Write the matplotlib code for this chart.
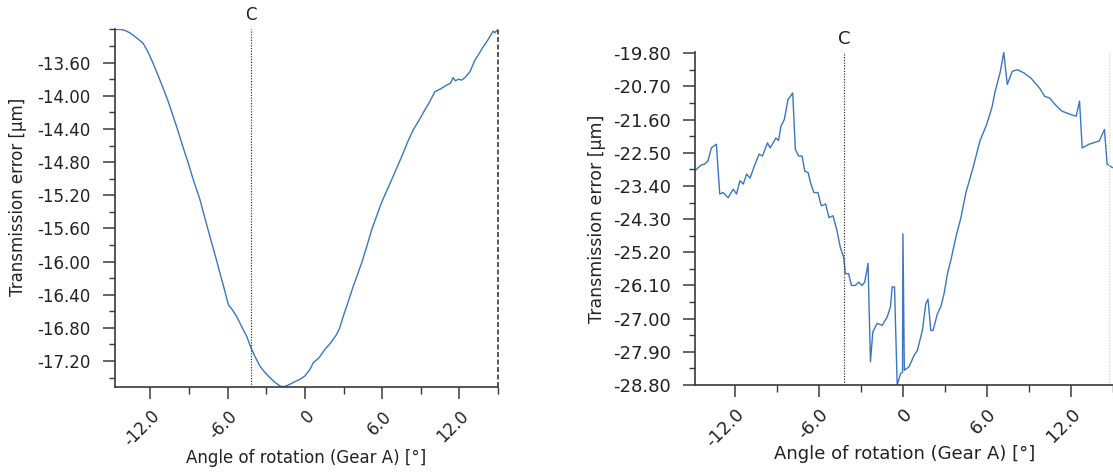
import matplotlib.pyplot as plt
from matplotlib.ticker import FixedLocator, MultipleLocator

plt.rcParams["axes.unicode_minus"] = False

# transmission error vs. rotation angle, two measurements
left_angle = [-14.76, -14.3, -14.0, -13.6, -13.34, -13.0, -12.56, -12.2, -11.79, -11.4,
              -11.01, -10.6, -10.23, -9.85, -9.45, -9.05, -8.68, -8.16, -7.78, -7.38,
              -6.98, -6.60, -6.25, -5.95, -5.65, -5.31, -4.93, -4.53, -4.14, -3.80,
              -3.50, -3.10, -2.72, -2.30, -1.94, -1.70, -1.45, -1.17, -0.80, -0.39,
              0.0, 0.39, 0.65, 1.10, 1.55, 2.00, 2.46, 2.70, 2.98, 3.35,
              3.75, 4.10, 4.40, 4.80, 5.18, 5.55, 5.95, 6.40, 6.86, 7.25,
              7.64, 8.00, 8.42, 8.85, 9.32, 9.70, 10.10, 10.50, 11.01, 11.30,
              11.52, 11.70, 11.91, 12.20, 12.50, 12.82, 13.21, 13.50, 13.85, 14.20,
              14.51, 14.62, 14.76, 14.90, 15.0]
left_error = [-13.20, -13.20, -13.21, -13.24, -13.27, -13.31, -13.37, -13.47, -13.61, -13.76,
              -13.91, -14.08, -14.25, -14.43, -14.63, -14.82, -15.01, -15.25, -15.47, -15.70,
              -15.92, -16.14, -16.34, -16.52, -16.58, -16.66, -16.78, -16.90, -17.06, -17.17,
              -17.26, -17.34, -17.40, -17.46, -17.50, -17.51, -17.50, -17.48, -17.45, -17.42,
              -17.38, -17.30, -17.22, -17.16, -17.06, -16.98, -16.88, -16.80, -16.66, -16.49,
              -16.30, -16.15, -16.02, -15.82, -15.62, -15.46, -15.29, -15.13, -14.97, -14.83,
              -14.69, -14.55, -14.41, -14.30, -14.17, -14.07, -13.95, -13.92, -13.87, -13.85,
              -13.78, -13.82, -13.80, -13.81, -13.77, -13.71, -13.57, -13.50, -13.41, -13.33,
              -13.25, -13.22, -13.24, -13.21, -13.23]

right_angle = [-14.88, -14.40, -14.16, -13.92, -13.68, -13.32, -13.08, -12.84, -12.48, -12.12,
               -11.88, -11.64, -11.40, -11.16, -10.92, -10.56, -10.27, -10.03, -9.67, -9.48,
               -9.07, -8.88, -8.71, -8.47, -8.21, -7.87, -7.68, -7.44, -7.20, -7.01,
               -6.77, -6.60, -6.36, -6.07, -5.83, -5.52, -5.28, -4.99, -4.71, -4.47,
               -4.23, -4.11, -3.88, -3.68, -3.40, -3.16, -2.92, -2.73, -2.49, -2.32,
               -2.15, -1.84, -1.48, -1.12, -0.89, -0.77, -0.60, -0.41, -0.17, -0.03,
               0.0, 0.10, 0.43, 0.79, 1.03, 1.39, 1.63, 1.79, 1.99, 2.15,
               2.46, 2.70, 2.94, 3.18, 3.42, 3.78, 4.14, 4.50, 5.01, 5.50,
               5.98, 6.35, 6.59, 6.96, 7.20, 7.45, 7.81, 8.18, 8.66, 9.15,
               9.76, 10.12, 10.49, 10.86, 11.34, 11.95, 12.37, 12.61, 12.80, 13.29,
               14.02, 14.39, 14.58, 14.95]
right_error = [-23.00, -22.83, -22.81, -22.72, -22.37, -22.27, -23.62, -23.58, -23.72, -23.49,
               -23.62, -23.26, -23.35, -23.08, -23.19, -22.81, -22.54, -22.59, -22.23, -22.37,
               -22.10, -22.17, -21.78, -21.60, -21.06, -20.88, -22.41, -22.59, -22.59, -23.00,
               -23.04, -23.31, -23.58, -23.58, -23.94, -23.89, -24.26, -24.21, -24.61, -25.07,
               -25.34, -25.78, -25.78, -26.10, -26.10, -26.01, -26.10, -26.01, -25.50, -28.17,
               -27.36, -27.13, -27.18, -26.95, -26.68, -26.14, -26.14, -28.80, -28.49, -28.45,
               -24.70, -28.40, -28.31, -28.00, -27.86, -27.32, -26.60, -26.47, -27.32, -27.32,
               -26.87, -26.68, -26.32, -25.78, -25.42, -24.79, -24.26, -23.58, -22.90, -22.18,
               -21.73, -21.28, -20.83, -20.29, -19.78, -20.65, -20.29, -20.25, -20.34, -20.48,
               -20.75, -20.97, -21.02, -21.19, -21.37, -21.46, -21.51, -21.10, -22.37, -22.27,
               -22.18, -21.87, -22.81, -22.90]

x_ticks = [-12.0, -6.0, 0.0, 6.0, 12.0]
x_tick_labels = ["-12.0", "-6.0", "0", "6.0", "12.0"]
left_y_ticks = [-17.2, -16.8, -16.4, -16.0, -15.6, -15.2, -14.8, -14.4, -14.0, -13.6]
right_y_ticks = [-28.8, -27.9, -27.0, -26.1, -25.2, -24.3, -23.4, -22.5, -21.6, -20.7, -19.8]
c_angle = -4.2
end_angle = 15.0

line_color = "#3a76c2"
axis_color = "#3a3a3a"

fig = plt.figure(figsize=(11.13, 4.73), dpi=100)
ax1 = fig.add_axes([0.1033, 0.1818, 0.3441, 0.7569])
ax2 = fig.add_axes([0.6244, 0.1860, 0.3756, 0.7047])


def style_axes(ax, yticks, ystep, fs):
    for s in ["top", "right"]:
        ax.spines[s].set_visible(False)
    for s in ["left", "bottom"]:
        ax.spines[s].set_color(axis_color)
        ax.spines[s].set_linewidth(1.2)
    ax.set_xticks(x_ticks, x_tick_labels)
    ax.xaxis.set_minor_locator(MultipleLocator(3.0))
    ax.yaxis.set_major_locator(FixedLocator(yticks))
    ax.yaxis.set_minor_locator(MultipleLocator(ystep / 2))
    ax.yaxis.set_major_formatter("{x:.2f}")
    ax.tick_params(axis="both", which="major", length=8.5, width=1.1, color=axis_color,
                   labelsize=fs, labelcolor="#222222")
    ax.tick_params(axis="y", which="major", pad=9)
    ax.tick_params(axis="x", which="major", pad=6)
    ax.tick_params(axis="both", which="minor", length=4, width=1.0, color=axis_color)
    ax.tick_params(axis="x", which="minor", length=5)
    for lab in ax.get_xticklabels():
        lab.set_rotation(45)
        lab.set_ha("right")
        lab.set_va("top")
        lab.set_rotation_mode("anchor")


# left measurement
ax1.plot(left_angle, left_error, color=line_color, lw=1.0)
ax1.set_xlim(-14.76, 15.0)
ax1.set_ylim(-17.513, -13.194)
style_axes(ax1, left_y_ticks, 0.4, 12)
ax1.axvline(c_angle, color=axis_color, lw=0.9, ls=(0, (1, 1.2)))
ax1.axvline(end_angle, color=axis_color, lw=1.2, ls=(0, (3, 1.5)), clip_on=False)
ax1.text(c_angle, 1.015, "C", transform=ax1.get_xaxis_transform(), ha="center",
         va="bottom", fontsize=12, color="#222222")
ax1.set_xlabel("Angle of rotation (Gear A) [°]", fontsize=12, color="#222222")
ax1.set_ylabel("Transmission error [µm]", fontsize=12, color="#222222")
ax1.xaxis.set_label_coords(0.499, -0.172)
ax1.yaxis.set_label_coords(-0.23, 0.53)

# right measurement
ax2.plot(right_angle, right_error, color=line_color, lw=1.0)
ax2.set_xlim(-14.85, 15.0)
ax2.set_ylim(-28.80, -19.76)
style_axes(ax2, right_y_ticks, 0.9, 13)
ax2.axvline(c_angle, color=axis_color, lw=0.9, ls=(0, (1, 1.2)))
ax2.axvline(14.7, color="#cccccc", lw=0.8, ls=(0, (1, 1.5)))
ax2.text(c_angle, 1.01, "C", transform=ax2.get_xaxis_transform(), ha="center",
         va="bottom", fontsize=13, color="#222222")
ax2.set_xlabel("Angle of rotation (Gear A) [°]", fontsize=13, color="#222222")
ax2.set_ylabel("Transmission error [µm]", fontsize=12.5, color="#222222")
ax2.xaxis.set_label_coords(0.502, -0.18)
ax2.yaxis.set_label_coords(-0.213, 0.5)

fig.savefig("out.png", dpi=100)
